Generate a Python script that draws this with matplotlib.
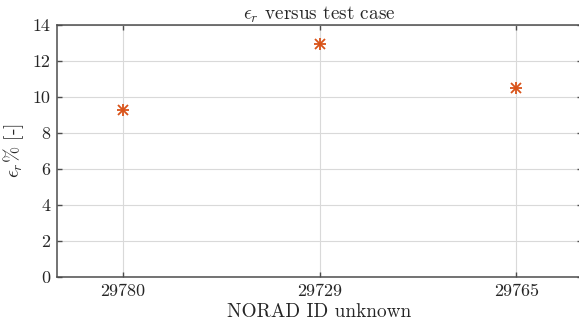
import matplotlib
matplotlib.use("Agg")
import matplotlib.pyplot as plt

categories = ["29780", "29729", "29765"]
values = [9.3, 12.93, 10.5]
yticks = [0, 2, 4, 6, 8, 10, 12, 14]

plt.rcParams['mathtext.fontset'] = 'cm'
plt.rcParams['font.family'] = ['cmr10', 'DejaVu Serif']
plt.rcParams['axes.formatter.use_mathtext'] = True

W, H = 579, 327
fig = plt.figure(figsize=(W/100, H/100), dpi=100)
left, right, top, bottom = 57, 582, 25, 277
ax = fig.add_axes([left/W, 1 - bottom/H, (right-left)/W, (bottom-top)/H])

x = list(range(1, len(categories)+1))
col = '#D95319'
ax.plot(x, values, linestyle='none', marker='+', markersize=9, mew=1.3, color=col, zorder=3)
ax.plot(x, values, linestyle='none', marker='x', markersize=7, mew=1.3, color=col, zorder=3)

ax.set_xlim(0.665, 3.335)
ax.set_ylim(0, 14)
ax.set_xticks(x)
ax.set_xticklabels(categories)
ax.set_yticks(yticks)
ax.set_yticklabels([str(t) for t in yticks])

ax.grid(True, color='#d9d9d9', linewidth=0.8)
ax.set_axisbelow(True)
for s in ax.spines.values():
    s.set_color('#4d4d4d')
    s.set_linewidth(1.1)
ax.tick_params(direction='in', length=3.5, width=1.0, color='#4d4d4d',
               labelsize=13, labelcolor='#262626', top=True, right=True, pad=5)

ax.set_title(r'$\epsilon_r$ versus test case', fontsize=13.8, color='#262626', pad=4)
ax.set_xlabel('NORAD ID unknown', fontsize=13.9, color='#262626', labelpad=3)
ax.set_ylabel(r'$\epsilon_r \%$ [-]', fontsize=14, color='#262626', labelpad=4)

fig.savefig('out.png', dpi=100)
